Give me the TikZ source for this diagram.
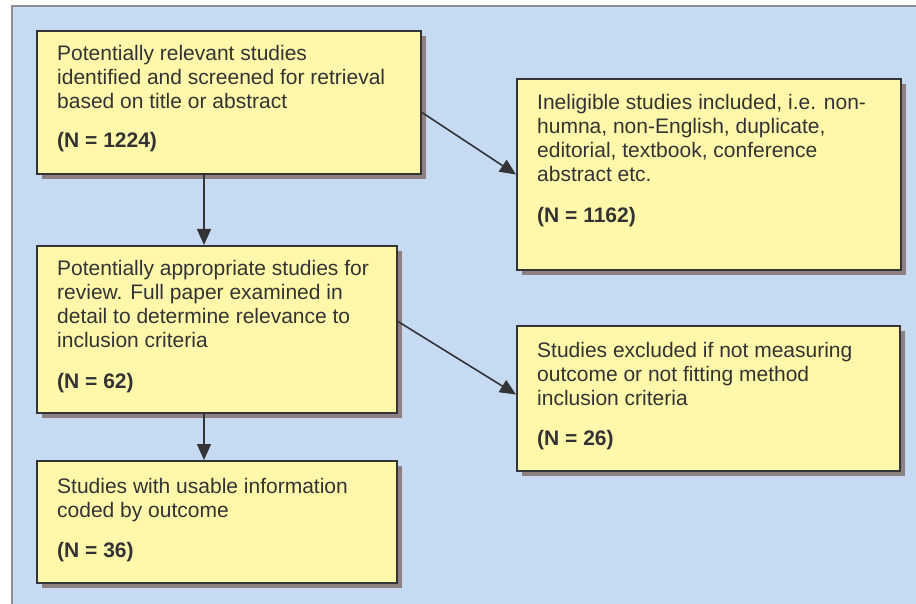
\documentclass[tikz,border=0pt]{standalone}
\usepackage{fontspec}
\setmainfont{Liberation Sans}
\usetikzlibrary{arrows.meta,shadows}
\definecolor{bgc}{RGB}{198,219,241}
\definecolor{framec}{RGB}{140,140,145}
\definecolor{boxc}{RGB}{255,248,170}
\definecolor{edgec}{RGB}{51,51,56}
\definecolor{shadowc}{RGB}{140,128,128}
\definecolor{txtc}{RGB}{51,51,51}
\begin{document}
\begin{tikzpicture}[x=1pt,y=-1pt,
  box/.style={draw=edgec, line width=2pt, fill=boxc, anchor=north west, inner sep=0pt,
    drop shadow={shadow xshift=5pt, shadow yshift=-5pt, fill=shadowc, opacity=1}},
  txt/.style={anchor=base west, inner sep=0pt, text=txtc,
    font=\fontsize{21}{24}\selectfont},
  arr/.style={draw=edgec, line width=1.6pt, -{Triangle[length=16pt,width=14pt]}}]
\useasboundingbox (0,0) rectangle (916,604);
\fill[bgc] (12,6) rectangle (916,604);
\draw[framec, line width=2pt] (12,604) -- (12,6) -- (916,6);

\node[box, minimum width=384pt, minimum height=143pt] (b1) at (36,30) {};
\node[box, minimum width=384pt, minimum height=191pt] (b2) at (516,78) {};
\node[box, minimum width=360pt, minimum height=167pt] (b3) at (36,245) {};
\node[box, minimum width=383pt, minimum height=145pt] (b4) at (516,325) {};
\node[box, minimum width=360pt, minimum height=122pt] (b5) at (36,460) {};

\node[txt] (t1) at ([xshift=21pt,yshift=-31pt]b1.north west) {\begin{tabular}[t]{@{}l@{}}Potentially relevant studies\\ identified and screened for retrieval\\ based on title or abstract\\[15pt] \bfseries (N = 1224)\end{tabular}};
\node[txt] (t2) at ([xshift=21pt,yshift=-32pt]b2.north west) {\begin{tabular}[t]{@{}l@{}}Ineligible studies included, i.e. non-\\ humna, non-English, duplicate,\\ editorial, textbook, conference\\ abstract etc.\\[17pt] \bfseries (N = 1162)\end{tabular}};
\node[txt] (t3) at ([xshift=21pt,yshift=-31pt]b3.north west) {\begin{tabular}[t]{@{}l@{}}Potentially appropriate studies for\\ review. Full paper examined in\\ detail to determine relevance to\\ inclusion criteria\\[17pt] \bfseries (N = 62)\end{tabular}};
\node[txt] (t4) at ([xshift=21pt,yshift=-32pt]b4.north west) {\begin{tabular}[t]{@{}l@{}}Studies excluded if not measuring\\ outcome or not fitting method\\ inclusion criteria\\[16pt] \bfseries (N = 26)\end{tabular}};
\node[txt] (t5) at ([xshift=21pt,yshift=-33pt]b5.north west) {\begin{tabular}[t]{@{}l@{}}Studies with usable information\\ coded by outcome\\[16pt] \bfseries (N = 36)\end{tabular}};

\draw[arr] ([xshift=168pt]b1.south west) -- ([xshift=168pt]b3.north west);
\draw[arr] ([xshift=168pt]b3.south west) -- ([xshift=168pt]b5.north west);
\draw[arr] ([yshift=-10pt]b1.east) -- (b2.west);
\draw[arr] ([yshift=8pt]b3.east) -- ([yshift=4pt]b4.west);
\end{tikzpicture}
\end{document}
